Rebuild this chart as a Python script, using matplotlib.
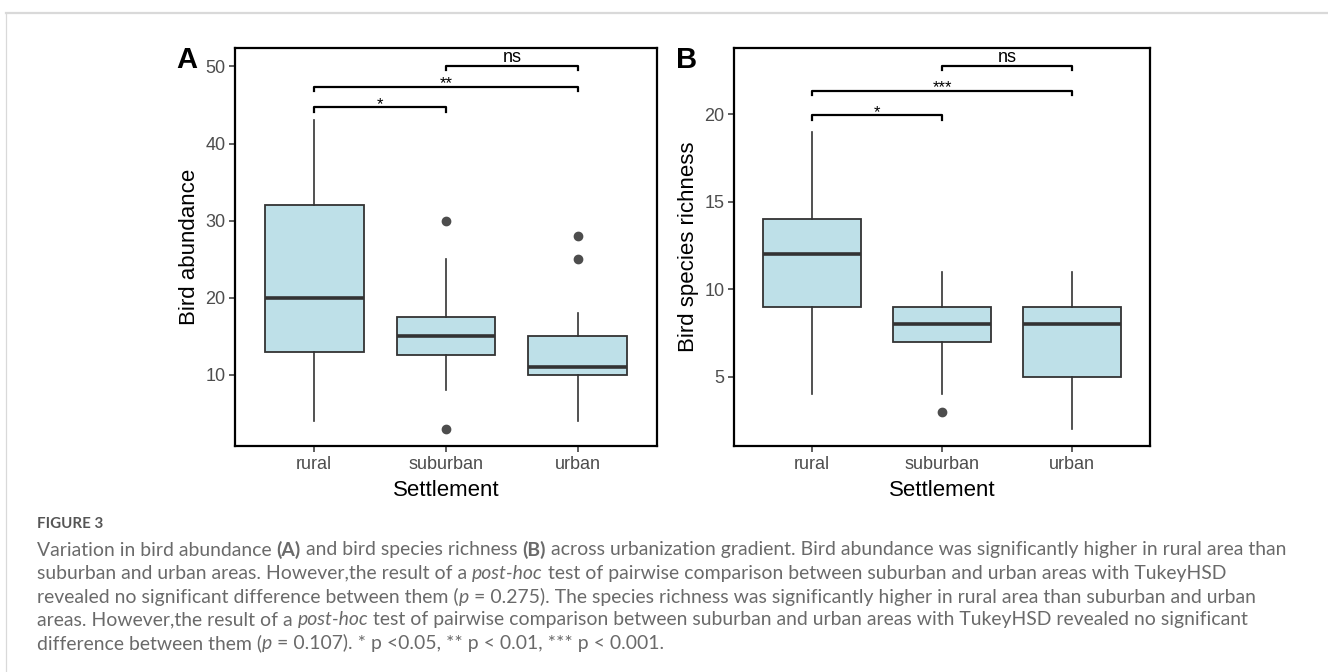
import matplotlib
matplotlib.use('Agg')
import matplotlib.pyplot as plt
from matplotlib.lines import Line2D

# data
cats = ['rural', 'suburban', 'urban']

abund_lo = [4, 8, 4]
abund_q1 = [13, 12.5, 10]
abund_med = [20, 15, 11]
abund_q3 = [32, 17.5, 15]
abund_hi = [43, 25, 18]
abund_out = [[], [30, 3], [28, 25]]

rich_lo = [4, 4, 2]
rich_q1 = [9, 7, 5]
rich_med = [12, 8, 8]
rich_q3 = [14, 9, 9]
rich_hi = [19, 11, 11]
rich_out = [[], [3], []]

# significance brackets (group i, group j, height, label)
pairs = [(0, 1), (0, 2), (1, 2)]
abund_sig_y = [44.7, 47.4, 50.1]
abund_sig = ['*', '**', 'ns']
rich_sig_y = [19.95, 21.35, 22.78]
rich_sig = ['*', '***', 'ns']

W, H = 1328, 672
fig = plt.figure(figsize=(W/100, H/100), dpi=100)
plt.rcParams['font.family'] = ['Liberation Sans', 'DejaVu Sans']

fill = '#bee0e8'
edge = '#333333'

def panel(rect, lo, q1, med, q3, hi, out, ylim, yticks, ylabel, sig_y, sig, tip, letter):
    ax = fig.add_axes(rect)
    stats = []
    for i in range(len(cats)):
        stats.append(dict(med=med[i], q1=q1[i], q3=q3[i], whislo=lo[i], whishi=hi[i], fliers=out[i]))
    ax.bxp(stats, positions=[1, 2, 3], widths=0.75, patch_artist=True, showcaps=False,
           boxprops=dict(facecolor=fill, edgecolor=edge, linewidth=1.3),
           medianprops=dict(color=edge, linewidth=2.6),
           whiskerprops=dict(color=edge, linewidth=1.2),
           flierprops=dict(marker='o', markerfacecolor='#4d4d4d', markeredgecolor='#4d4d4d', markersize=6))
    ax.set_xlim(0.4, 3.6)
    ax.set_ylim(*ylim)
    ax.set_xticks([1, 2, 3])
    ax.set_xticklabels(cats)
    ax.set_yticks(yticks)
    ax.tick_params(axis='both', length=4, width=1.1, color='#333333', labelsize=13, labelcolor='#4d4d4d', pad=3)
    for s in ax.spines.values():
        s.set_linewidth(1.6)
        s.set_color('black')
    ax.set_xlabel('Settlement', fontsize=16, labelpad=5)
    ax.set_ylabel(ylabel, fontsize=16, labelpad=4)
    # brackets
    for (i, j), y, lab in zip(pairs, sig_y, sig):
        x1, x2 = i + 1, j + 1
        ax.plot([x1, x1, x2, x2], [y - tip, y, y, y - tip], color='black', lw=1.6, clip_on=False)
        off = 2.6 if lab == 'ns' else -1.0
        ax.annotate(lab, xy=((x1 + x2) / 2, y), xytext=(0, off), textcoords='offset points',
                    ha='center', va='baseline', fontsize=13 if lab == 'ns' else 12, color='black')
    ax.text(-0.14, 1.005, letter, transform=ax.transAxes, fontsize=21, fontweight='bold',
            ha='left', va='top')
    return ax

yb = (H - 446) / H
yt = (H - 48) / H
axA = panel([235 / W, yb, (657 - 235) / W, yt - yb], abund_lo, abund_q1, abund_med, abund_q3, abund_hi,
            abund_out, (0.75, 52.4), [10, 20, 30, 40, 50], 'Bird abundance', abund_sig_y, abund_sig, 0.55, 'A')
axB = panel([734 / W, yb, (1150 - 734) / W, yt - yb], rich_lo, rich_q1, rich_med, rich_q3, rich_hi,
            rich_out, (1.05, 23.8), [5, 10, 15, 20], 'Bird species richness', rich_sig_y, rich_sig, 0.25, 'B')

# light frame around the figure
fig.add_artist(Line2D([6 / W, 1], [1 - 13 / H, 1 - 13 / H], color='#d9d9d9', lw=1.6, transform=fig.transFigure))
fig.add_artist(Line2D([6 / W, 6 / W], [0, 1 - 13 / H], color='#d9d9d9', lw=0.9, transform=fig.transFigure))

# caption
cap_font = ['Lato', 'DejaVu Sans']
cap_col = '#6a6a6a'
lines = [
    [("Variation in bird abundance ", 'n'), ("(A)", 'b'), (" and bird species richness ", 'n'), ("(B)", 'b'),
     (" across urbanization gradient. Bird abundance was significantly higher in rural area than", 'n')],
    [("suburban and urban areas. However,the result of a ", 'n'), ("post-hoc", 'i'),
     (" test of pairwise comparison between suburban and urban areas with TukeyHSD", 'n')],
    [("revealed no significant difference between them (", 'n'), ("p", 'i'),
     (" = 0.275). The species richness was significantly higher in rural area than suburban and urban", 'n')],
    [("areas. However,the result of a ", 'n'), ("post-hoc", 'i'),
     (" test of pairwise comparison between suburban and urban areas with TukeyHSD revealed no significant", 'n')],
    [("difference between them (", 'n'), ("p", 'i'), (" = 0.107). * p <0.05, ** p < 0.01, *** p < 0.001.", 'n')],
]
line_y = [550, 573, 597, 620, 643]
x0 = 37
renderer = fig.canvas.get_renderer()

def draw_line(segs, y, size, draw=True):
    x = x0
    made = []
    for txt, st in segs:
        t = fig.text(x / W, 1 - y / H, txt, fontsize=size, color=cap_col, family=cap_font,
                     fontweight='bold' if st == 'b' else 'normal',
                     fontstyle='italic' if st == 'i' else 'normal', va='center', ha='left')
        bb = t.get_window_extent(renderer)
        x += bb.width
        made.append(t)
    if not draw:
        for t in made:
            t.remove()
    return x - x0

# size the caption so that the first line spans the same width as in the figure
base = 12
w1 = draw_line(lines[0], line_y[0], base, draw=False)
cap_size = base * (1283 - x0) / w1
for segs, y in zip(lines, line_y):
    draw_line(segs, y, cap_size)
fig.text(x0 / W, 1 - 524 / H, 'FIGURE 3', fontsize=cap_size * 0.78, color='#555555', family=cap_font,
         fontweight='bold', va='center', ha='left')

fig.savefig('out.png', dpi=100)
